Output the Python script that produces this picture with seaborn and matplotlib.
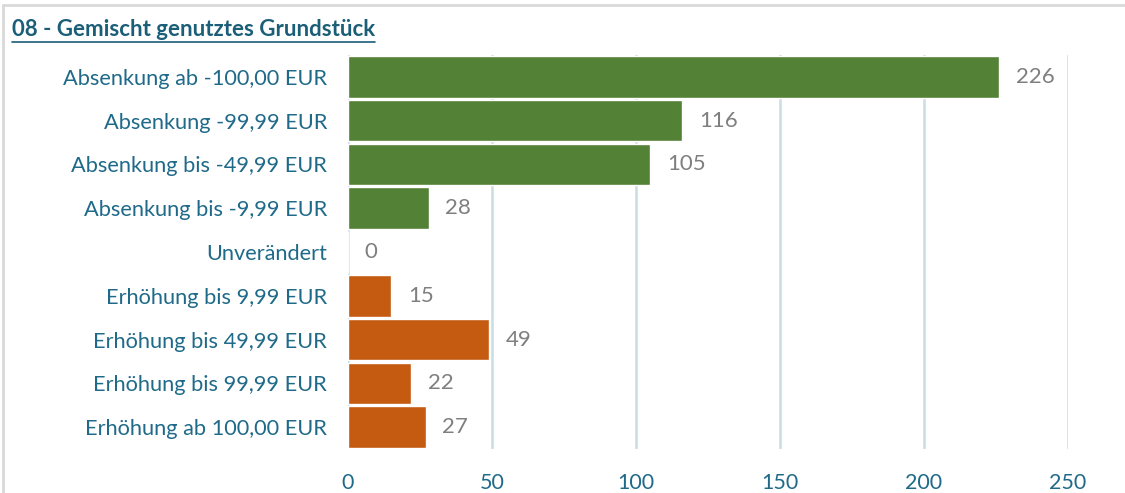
import matplotlib
matplotlib.use("Agg")
import matplotlib.pyplot as plt
from matplotlib.patches import Rectangle
from matplotlib.lines import Line2D
import seaborn as sns
import pandas as pd

categories = [
    "Absenkung ab -100,00 EUR",
    "Absenkung -99,99 EUR",
    "Absenkung bis -49,99 EUR",
    "Absenkung bis -9,99 EUR",
    "Unverändert",
    "Erhöhung bis 9,99 EUR",
    "Erhöhung bis 49,99 EUR",
    "Erhöhung bis 99,99 EUR",
    "Erhöhung ab 100,00 EUR",
]
counts = [226, 116, 105, 28, 0, 15, 49, 22, 27]
groups = ["Absenkung"] * 4 + ["Unverändert"] + ["Erhöhung"] * 4
x_ticks = [0, 50, 100, 150, 200, 250]
title = "08 - Gemischt genutztes Grundstück"

palette = {"Absenkung": "#538135", "Unverändert": "#A5A5A5", "Erhöhung": "#C55A11"}
label_color = "#1F6A89"
value_color = "#7F7F7F"
grid_color = "#CADDE4"

sns.set_theme(style="white")
plt.rcParams["font.family"] = ["Lato", "DejaVu Sans"]

df = pd.DataFrame({"Kategorie": categories, "Anzahl": counts, "Gruppe": groups})

fig = plt.figure(figsize=(11.25, 4.93), dpi=100)
ax = fig.add_axes([348 / 1125, 1 - 449 / 493, 720 / 1125, 394 / 493])

sns.barplot(
    data=df, x="Anzahl", y="Kategorie", hue="Gruppe", palette=palette,
    saturation=1, dodge=False, legend=False, width=0.95, orient="h",
    edgecolor="white", linewidth=1.0, ax=ax, zorder=3,
)

ax.set_xlim(0, 250)
ax.set_xticks(x_ticks)
ax.xaxis.grid(True, color=grid_color, linewidth=1.8, zorder=0)
ax.yaxis.grid(False)
ax.set_axisbelow(True)
for s in ax.spines.values():
    s.set_visible(False)
ax.set_xlabel("")
ax.set_ylabel("")
ax.tick_params(axis="x", length=0, pad=17, labelsize=15.5, labelcolor=label_color)
ax.tick_params(axis="y", length=0, pad=15, labelsize=15.7, labelcolor=label_color)

for container in ax.containers:
    ax.bar_label(container, fmt="%d", padding=12, color=value_color, fontsize=16)

# chart title with underline
t = fig.text(12 / 1125, 1 - 30 / 493, title, fontsize=16, fontweight="bold",
             color="#1B5E78", ha="left", va="center")
fig.canvas.draw()
bb = t.get_window_extent()
y_line = (bb.y0 - 1) / fig.bbox.height
fig.add_artist(Line2D([bb.x0 / fig.bbox.width, bb.x1 / fig.bbox.width], [y_line, y_line],
                      transform=fig.transFigure, color="#1B5E78", linewidth=1.2))

# light frame around the chart
fig.add_artist(Rectangle((3 / 1125, -0.05), 1.2, 1 - 5 / 493 + 0.05, transform=fig.transFigure,
                         fill=False, edgecolor="#D9D9D9", linewidth=2.0))

fig.savefig("out.png", dpi=100)
